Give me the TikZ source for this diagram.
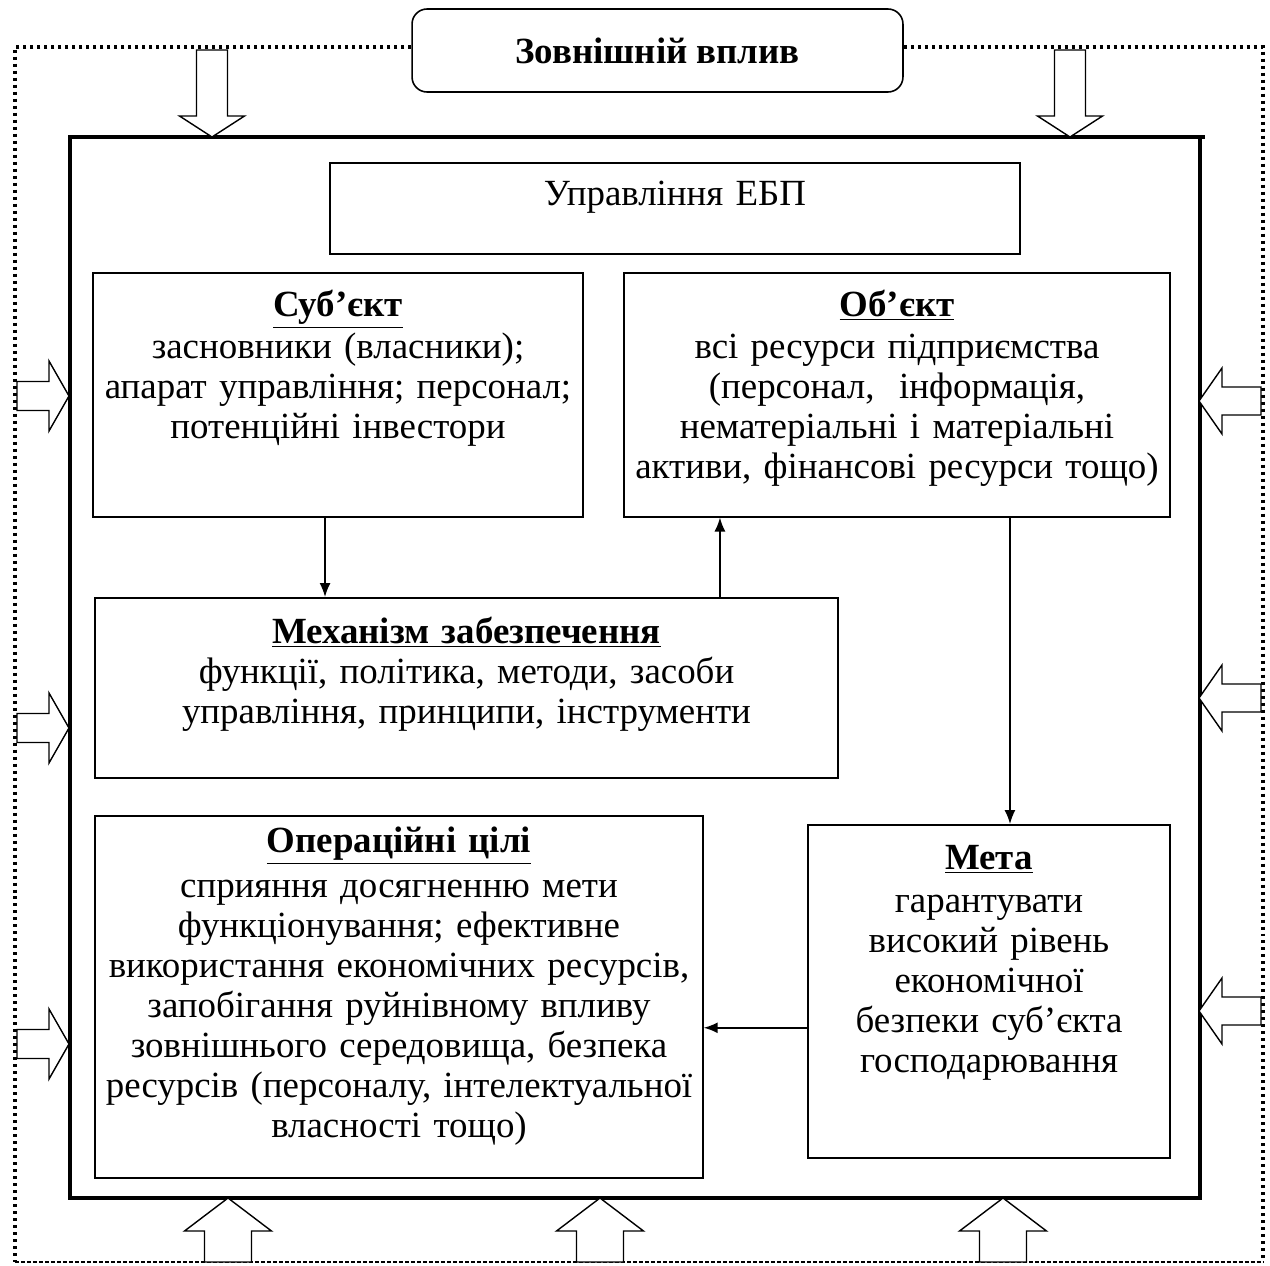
\documentclass[tikz,border=0pt]{standalone}
\usepackage{fontspec}
\setmainfont{Liberation Serif}
\usetikzlibrary{arrows.meta}

\begin{document}
\begin{tikzpicture}[x=0.02cm,y=-0.02cm,->,>={Latex[length=2.8mm,width=2.2mm]},line width=0.9pt,
  block/.style={draw,rectangle,anchor=north,align=center,inner xsep=0pt,inner ysep=0pt,
    font=\fontsize{21pt}{22.8pt}\selectfont},
  hollow/.style={-,draw,fill=white,line width=0.8pt},
  outerdots/.style={-,line width=1.8pt,dash pattern=on 0.06cm off 0.08cm},
  bottomdash/.style={-,line width=0.6pt,dash pattern=on 0.08cm off 0.04cm}]

  \useasboundingbox (0,0) rectangle (1270,1265);

  \node[draw,rounded corners=0.3cm,minimum width=9.82cm,minimum height=1.66cm,
    font=\fontsize{21pt}{22pt}\selectfont\bfseries] (ext) at (657.5,50.5) {Зовнішній вплив};

  \draw[outerdots] ([yshift=0.07cm]ext.west) -| (15,1262);
  \draw[outerdots] ([yshift=0.07cm]ext.east) -| (1263,1262);
  \draw[bottomdash] (15,1262) -- (1263,1262);
  \draw[-,line width=2.3pt] (70,137) rectangle (1200,1198);
  \draw[-,line width=2.3pt] (1200,137) -- (1205,137);

  \node[block,text width=13.8cm,text height=0.86cm,text depth=0.96cm] (upr) at (675,162)
    {Управління ЕБП};
  \node[block,text width=9.8cm,text height=0.88cm,text depth=4.0cm] (subj) at (338,272)
    {\underline{\textbf{Суб’єкт}}\\[1pt] засновники (власники);\\ апарат управління; персонал;\\ потенційні інвестори};
  \node[block,text width=10.92cm,text height=0.88cm,text depth=4.0cm] (obj) at (897,272)
    {\underline{\textbf{Об’єкт}}\\[1pt] всі ресурси підприємства\\ (персонал,\ \ інформація,\\ нематеріальні і матеріальні\\ активи, фінансові ресурси тощо)};
  \node[block,text width=14.86cm,text height=0.92cm,text depth=2.68cm] (mech) at (466.5,597)
    {\underline{\textbf{Механізм забезпечення}}\\ функції, політика, методи, засоби\\ управління, принципи, інструменти};
  \node[block,text width=12.16cm,text height=0.74cm,text depth=6.5cm] (ops) at (399,815)
    {\underline{\textbf{Операційні цілі}}\\[2.5pt] сприяння досягненню мети\\ функціонування; ефективне\\ використання економічних ресурсів,\\ запобігання руйнівному впливу\\ зовнішнього середовища, безпека\\ ресурсів (персоналу, інтелектуальної\\ власності тощо)};
  \node[block,text width=7.24cm,text height=0.9cm,text depth=5.76cm] (meta) at (989,824)
    {\underline{\textbf{Мета}}\\[1.5pt] гарантувати\\ високий рівень\\ економічної\\ безпеки суб’єкта\\ господарювання};

  \draw ([xshift=-0.26cm]subj.south) -- ([xshift=-0.26cm]subj.south |- mech.north);
  \draw ([xshift=5.07cm]mech.north) -- ([xshift=5.07cm]mech.north |- obj.south);
  \draw ([xshift=2.26cm]obj.south) -- ([xshift=2.26cm]obj.south |- meta.north);
  \draw ([yshift=-0.73cm]meta.west) -- ([yshift=-0.73cm]meta.west -| ops.east);

  \foreach \cx in {212,1070}
    \draw[hollow] (\cx-15.5,50) -- (\cx+15.5,50) -- (\cx+15.5,116) -- (\cx+32.5,116)
      -- (\cx,137) -- (\cx-32.5,116) -- (\cx-15.5,116) -- cycle;
  \foreach \cx in {228,600,1003}
    \draw[hollow] (\cx-23.5,1262) -- (\cx+23.5,1262) -- (\cx+23.5,1231) -- (\cx+43.5,1231)
      -- (\cx,1198) -- (\cx-43.5,1231) -- (\cx-23.5,1231) -- cycle;
  \foreach \cy in {396,728,1044}
    \draw[hollow] (17,\cy-14.5) -- (49,\cy-14.5) -- (49,\cy-35) -- (69,\cy)
      -- (49,\cy+35) -- (49,\cy+14.5) -- (17,\cy+14.5) -- cycle;
  \foreach \cy in {401,698,1011}
    \draw[hollow] (1261,\cy-14) -- (1222,\cy-14) -- (1222,\cy-33) -- (1199,\cy)
      -- (1222,\cy+33) -- (1222,\cy+14) -- (1261,\cy+14) -- cycle;
\end{tikzpicture}
\end{document}
